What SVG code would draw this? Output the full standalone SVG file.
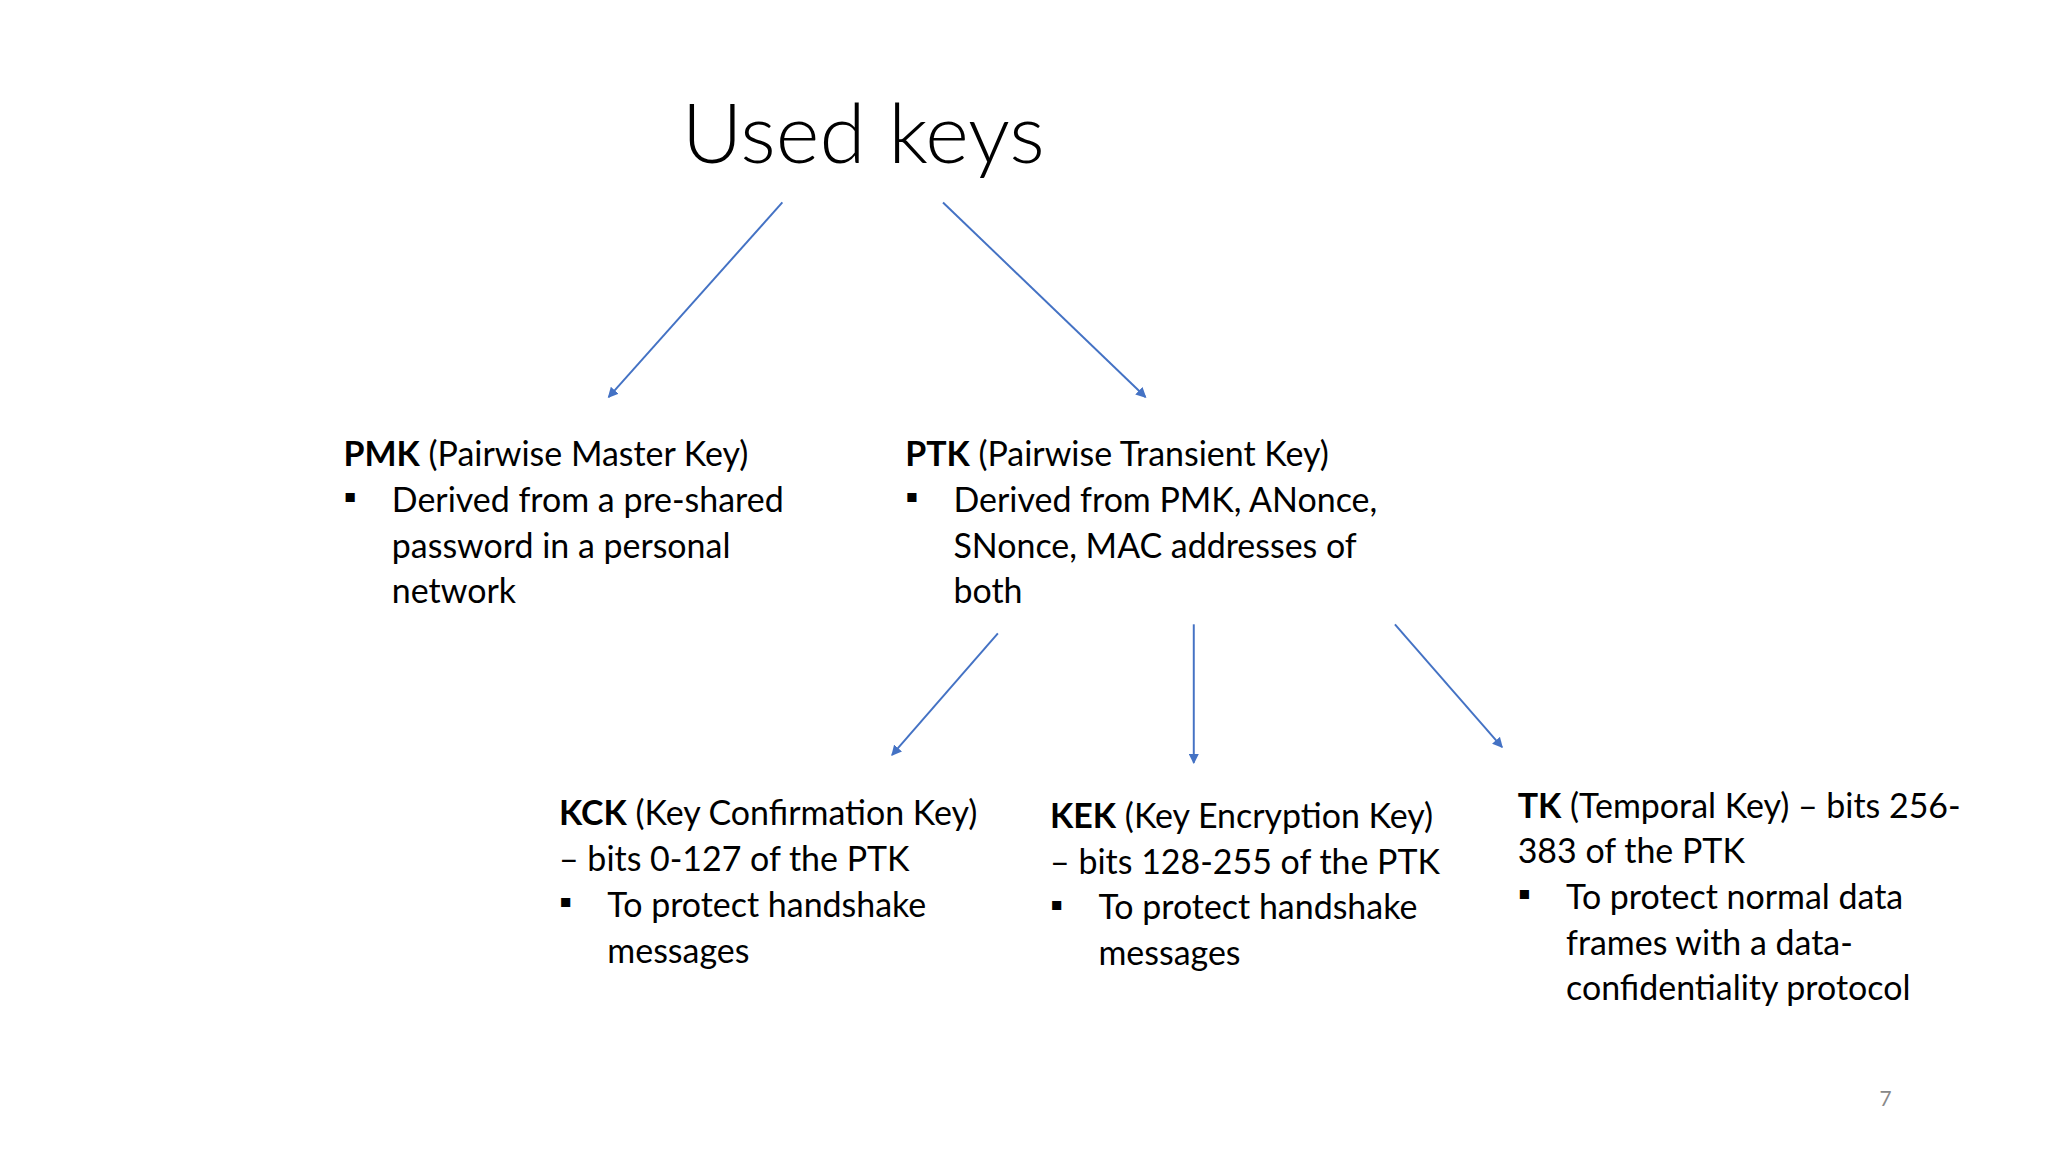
<svg xmlns="http://www.w3.org/2000/svg" width="2048" height="1152" viewBox="0 0 2048 1152">
<defs>
<marker id="ah" markerWidth="8" markerHeight="8" refX="7" refY="4" orient="auto" markerUnits="userSpaceOnUse"><path d="M0,0 L8,4 L0,8 z" fill="#4472C4"/></marker>
<style>
text{font-family:Lato,"Open Sans",sans-serif;fill:#000;font-size:26px}
.b{font-weight:bold}
.t{font-size:64px;font-weight:300}
.c line{stroke:#4472C4;stroke-width:1.5;marker-end:url(#ah)}
</style>
</defs>
<rect width="2048" height="1152" fill="#fff"/>
<g transform="scale(1.3061)">
<g id="title"><text class="t" x="522" y="125">Used keys</text></g>
<g class="c" id="connectors">
<line x1="599" y1="155" x2="466" y2="304"/>
<line x1="722" y1="155" x2="877" y2="304"/>
<line x1="764" y1="485" x2="683" y2="578"/>
<line x1="914" y1="478" x2="914" y2="584"/>
<line x1="1068" y1="478" x2="1150" y2="572"/>
</g>
<g id="pmk">
<text x="263" y="357"><tspan class="b">PMK</tspan> (Pairwise Master Key)</text>
<text x="263" y="390">▪</text>
<text x="300" y="392">Derived from a pre-shared</text>
<text x="300" y="427">password in a personal</text>
<text x="300" y="462">network</text>
</g>
<g id="ptk">
<text x="693" y="357"><tspan class="b">PTK</tspan> (Pairwise Transient Key)</text>
<text x="693" y="390">▪</text>
<text x="730" y="392">Derived from PMK, ANonce,</text>
<text x="730" y="427">SNonce, MAC addresses of</text>
<text x="730" y="462">both</text>
</g>
<g id="kck">
<text x="428" y="632"><tspan class="b">KCK</tspan> (Key Confirmation Key)</text>
<text x="428" y="667">– bits 0-127 of the PTK</text>
<text x="428" y="700">▪</text>
<text x="465" y="702">To protect handshake</text>
<text x="465" y="737">messages</text>
</g>
<g id="kek">
<text x="804" y="634"><tspan class="b">KEK</tspan> (Key Encryption Key)</text>
<text x="804" y="669">– bits 128-255 of the PTK</text>
<text x="804" y="702">▪</text>
<text x="841" y="704">To protect handshake</text>
<text x="841" y="739">messages</text>
</g>
<g id="tk">
<text x="1162" y="626"><tspan class="b">TK</tspan> (Temporal Key) – bits 256-</text>
<text x="1162" y="661">383 of the PTK</text>
<text x="1162" y="694">▪</text>
<text x="1199" y="696">To protect normal data</text>
<text x="1199" y="731">frames with a data-</text>
<text x="1199" y="766">confidentiality protocol</text>
</g>
<g id="page"><text x="1439" y="847" style="font-size:16px;fill:#888">7</text></g>
</g>
</svg>
